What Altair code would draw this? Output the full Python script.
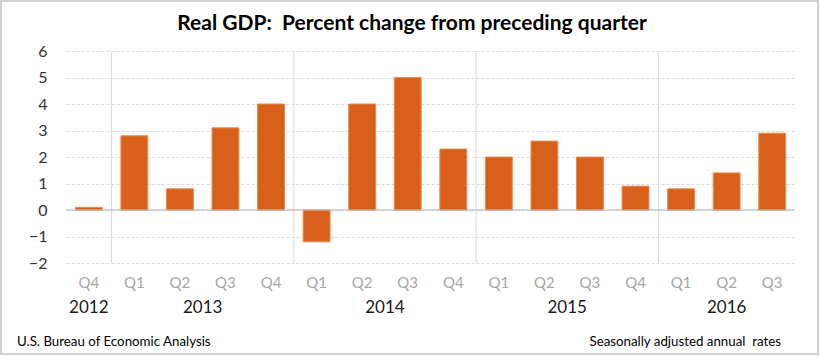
import altair as alt
import pandas as pd

# ---- data ----
quarters = ["Q4", "Q1", "Q2", "Q3", "Q4", "Q1", "Q2", "Q3",
            "Q4", "Q1", "Q2", "Q3", "Q4", "Q1", "Q2", "Q3"]
years = [2012, 2013, 2013, 2013, 2013, 2014, 2014, 2014,
         2014, 2015, 2015, 2015, 2015, 2016, 2016, 2016]
values = [0.1, 2.8, 0.8, 3.1, 4.0, -1.2, 4.0, 5.0,
          2.3, 2.0, 2.6, 2.0, 0.9, 0.8, 1.4, 2.9]
year_labels = ["2012", "2013", "2014", "2015", "2016"]
year_anchor = ["2012 Q4", "2013 Q2", "2014 Q2", "2015 Q2", "2016 Q2"]
year_full = [False, True, True, True, False]   # 4-quarter years centred between Q2 and Q3
y_ticks = [-2, -1, 0, 1, 2, 3, 4, 5, 6]
title_text = "Real GDP:\u00a0 Percent change from preceding quarter"
source_text = "U.S. Bureau of Economic Analysis"
note_text = "Seasonally adjusted annual\u00a0 rates"

cats = [f"{y} {q}" for y, q in zip(years, quarters)]
df = pd.DataFrame({"cat": cats, "quarter": quarters, "year": years, "value": values})
sep_df = pd.DataFrame({"cat": [c for c, q in zip(cats, quarters) if q == "Q1"],
                       "value": 6, "bottom": -2})
yr_df = pd.DataFrame({"cat": year_anchor, "label": year_labels, "full": year_full})

FONT = "Lato"
W, H = 729, 212
PAD_IN, PAD_OUT = 0.41, 0.205
STEP = W / (16 - PAD_IN + 2 * PAD_OUT)
BW = STEP * (1 - PAD_IN)

xscale = alt.Scale(domain=cats, paddingInner=PAD_IN, paddingOuter=PAD_OUT)
yscale = alt.Scale(domain=[-2, 6], nice=False)

x_axis = alt.Axis(title=None, domain=False, ticks=False, grid=False,
                  labelAngle=0, labelExpr="split(datum.value, ' ')[1]",
                  labelColor="#a6a6a6", labelFontSize=15, labelFont=FONT,
                  labelPadding=12)
y_axis = alt.Axis(title=None, values=y_ticks, domain=False, ticks=False,
                  labelFontSize=16, labelFont=FONT, labelColor="#333333",
                  labelPadding=19, labelOverlap=False, grid=True, gridColor="#d9d9d9",
                  gridDash=[3, 2], gridWidth=1)

x_enc = alt.X("cat:N", scale=xscale, sort=None, axis=x_axis)
y_enc = alt.Y("value:Q", scale=yscale, axis=y_axis)

# rules/texts on a band scale sit at the band start
separators = alt.Chart(sep_df).mark_rule(color="#d9d9d9", strokeWidth=1).encode(
    x=x_enc, y=y_enc, y2="bottom:Q",
    xOffset=alt.value(-STEP * PAD_IN / 2))

bars = alt.Chart(df).mark_bar(color="#D9601A", stroke="#E98A50", strokeWidth=1).encode(
    x=x_enc, y=y_enc)

zero = alt.Chart(pd.DataFrame({"value": [0]})).mark_rule(color="#b3b3b3", strokeWidth=1).encode(
    y=y_enc, x=alt.value(0), x2=alt.value(W))

txt = dict(font=FONT, fontSize=17, color="#1a1a1a", baseline="middle", align="center")
yr_full = alt.Chart(yr_df).transform_filter("datum.full").mark_text(**txt).encode(
    x=x_enc, y=alt.value(257), xOffset=alt.value(BW + STEP * PAD_IN / 2), text="label:N")
yr_part = alt.Chart(yr_df).transform_filter("!datum.full").mark_text(**txt).encode(
    x=x_enc, y=alt.value(257), xOffset=alt.value(BW / 2), text="label:N")

title = alt.Chart(pd.DataFrame({"t": [title_text]})).mark_text(
    font=FONT, fontSize=21, fontWeight="bold", color="#000000",
    align="center", baseline="middle").encode(
    x=alt.value(346), y=alt.value(-27), text="t:N")

source = alt.Chart(pd.DataFrame({"t": [source_text]})).mark_text(
    font=FONT, fontSize=13.3, color="#000000", align="left", baseline="middle").encode(
    x=alt.value(-49), y=alt.value(291), text="t:N")

note = alt.Chart(pd.DataFrame({"t": [note_text]})).mark_text(
    font=FONT, fontSize=13.3, color="#000000", align="right", baseline="middle").encode(
    x=alt.value(715), y=alt.value(291), text="t:N")

frame = alt.Chart(pd.DataFrame({"f": [1]})).mark_rect(
    fill=None, stroke="#d0d0d0", strokeWidth=2, clip=False).encode(
    x=alt.value(-65), x2=alt.value(752), y=alt.value(-50), y2=alt.value(303))

chart = alt.layer(separators, bars, zero, yr_full, yr_part, title, source, note, frame).properties(
    width=W, height=H,
    autosize=alt.AutoSizeParams(type="none"),
    padding={"left": 66, "top": 51, "right": 25, "bottom": 93},
    background="white",
).configure_view(stroke=None)

chart.save("out.html", embed_options={"renderer": "svg", "actions": False})
